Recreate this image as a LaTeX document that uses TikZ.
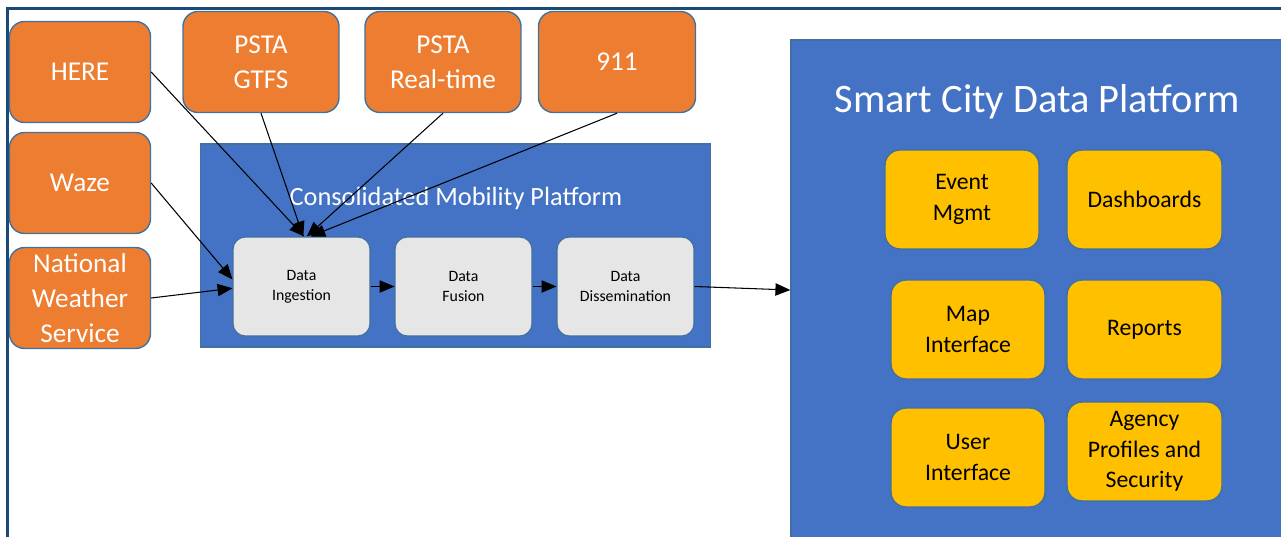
\documentclass[tikz,border=0pt]{standalone}
\usepackage{fontspec}
\setmainfont{Carlito}
\usetikzlibrary{arrows.meta}
\definecolor{srcorange}{HTML}{ED7D31}
\definecolor{boxline}{HTML}{41719C}
\definecolor{panelblue}{HTML}{4472C4}
\definecolor{stagegray}{HTML}{E7E6E6}
\definecolor{featgold}{HTML}{FFC000}
\definecolor{framenavy}{HTML}{1A4A78}
\begin{document}
\begin{tikzpicture}[x=0.02cm,y=-0.02cm,
  src/.style={draw=boxline, line width=0.8pt, fill=srcorange, rounded corners=0.3cm, text=white, align=center, font=\fontsize{15.5}{20}\selectfont, minimum height=2.02cm, inner sep=0pt},
  stage/.style={draw=boxline, line width=0.6pt, fill=stagegray, rounded corners=0.25cm, minimum width=2.74cm, minimum height=1.98cm, align=center, font=\fontsize{9}{11.5}\selectfont, inner sep=0pt},
  feat/.style={draw=boxline, line width=0.8pt, fill=featgold, rounded corners=0.3cm, minimum height=1.98cm, align=center, font=\fontsize{13.5}{17.5}\selectfont, inner sep=0pt},
  link/.style={-{Triangle[length=8.5pt,width=7pt]}, line width=0.6pt}]
\clip (0,0) rectangle (1281,537);
\fill[white] (0,0) rectangle (1281,537);
\draw[framenavy, line width=2pt] (7.5,537) -- (7.5,8.5) -- (1281,8.5);

% data sources
\node[src, minimum width=2.82cm] (here) at (80,72) {HERE};
\node[src, minimum width=2.82cm] (waze) at (80,183) {Waze};
\node[src, minimum width=2.82cm] (nws) at (80,298) {National\\Weather\\Service};
\node[src, minimum width=3.12cm] (gtfs) at (261,62) {PSTA\\GTFS};
\node[src, minimum width=3.12cm] (rt) at (443,62) {PSTA\\Real-time};
\node[src, minimum width=3.14cm] (nine) at (617,62) {911};

% consolidated mobility platform
\node[draw=boxline, line width=0.6pt, fill=panelblue, minimum width=10.22cm, minimum height=4.06cm] (cmp) at (455.5,245.5) {};
\node[text=white, font=\fontsize{15}{18}\selectfont] (cmptitle) at (456,198) {Consolidated Mobility Platform};
\node[stage] (ing) at (301.5,286.5) {Data\\Ingestion};
\node[stage] (fus) at (463.5,286.5) {Data\\Fusion};
\node[stage] (dis) at (625.5,286.5) {Data\\Dissemination};

% smart city data platform
\node[draw=boxline, line width=0.8pt, fill=panelblue, minimum width=10.18cm, minimum height=10.1cm] (scdp) at (1045.5,292.5) {};
\node[text=white, font=\fontsize{23}{27}\selectfont] (scdptitle) at (1037,102) {Smart City Data Platform};
\node[feat, minimum width=3.08cm] (event) at (962,199.5) {Event\\Mgmt};
\node[feat, minimum width=3.10cm] (dash) at (1144.5,199.5) {Dashboards};
\node[feat, minimum width=3.08cm] (map) at (968,329.5) {Map\\Interface};
\node[feat, minimum width=3.10cm] (rep) at (1144.5,329.5) {Reports};
\node[feat, minimum width=3.08cm] (ui) at (968,457.5) {User\\Interface};
\node[feat, minimum width=3.10cm] (agency) at (1144.5,451.5) {Agency\\Profiles and\\Security};

% connectors
\draw[link] (here.east) -- ([xshift=1.5pt]ing.north);
\draw[link] (gtfs.south) -- ([xshift=1pt]ing.north);
\draw[link] (rt.south) -- ([xshift=3pt]ing.north);
\draw[link] (nine.south) -- ([xshift=5pt]ing.north);
\draw[link] (waze.east) -- ([yshift=4pt]ing.west);
\draw[link] (nws.east) -- ([yshift=-1pt]ing.west);
\draw[link] (ing) -- (fus);
\draw[link] (fus) -- (dis);
\draw[link] (dis.east) -- ([yshift=-2pt]dis.east -| scdp.west);
\end{tikzpicture}
\end{document}
